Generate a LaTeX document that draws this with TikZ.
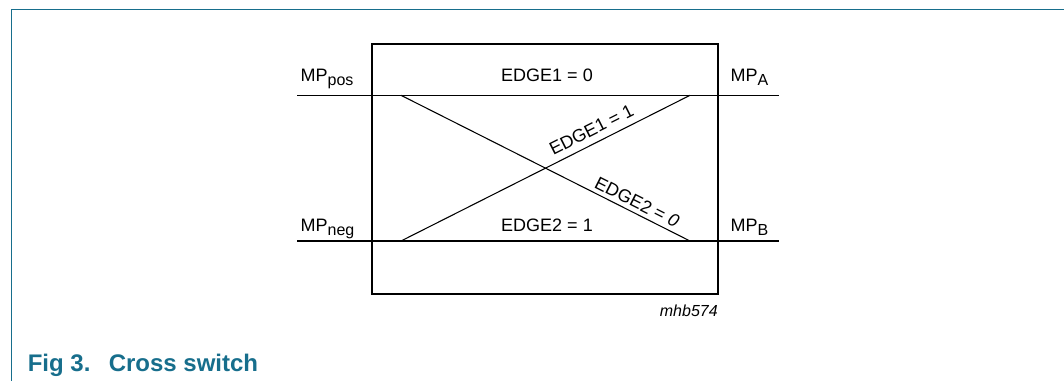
\documentclass[tikz,border=0pt]{standalone}
\usepackage{fontspec}
\setmainfont{Liberation Sans}
\definecolor{nxpteal}{RGB}{23,110,140}
\newcommand\subtxt[1]{\raisebox{-2.6pt}{\fontsize{12}{14}\selectfont #1}}
\tikzset{
  lbl/.style={inner sep=0pt, font=\fontsize{13.5}{15}\selectfont},
  wire/.style={line width=0.8pt},
  boxline/.style={line width=1.5pt},
  caption/.style={anchor=base west, inner sep=0pt, text=nxpteal, font=\bfseries\fontsize{18}{20}\selectfont}
}
\begin{document}
\begin{tikzpicture}[x=0.75pt,y=-0.75pt]
\useasboundingbox (0,0) rectangle (1064,381);
% frame
\draw[nxpteal, line width=1pt] (11.5,381) -- (11.5,9.5) -- (1064,9.5);
% box
\draw[boxline] (371.5,44) rectangle (718,293.5);
% terminals
\coordinate (pl) at (297,95.3);
\coordinate (pr) at (779,95.3);
\coordinate (nl) at (297,241);
\coordinate (nr) at (779,241);
\coordinate (tl) at (401,95.3);
\coordinate (tr) at (690,95.3);
\coordinate (bl) at (401,241);
\coordinate (br) at (690,241);
\draw[wire] (pl) -- (pr);
\draw[wire] (nl) -- (nr);
\draw[wire] (tl) -- (br) node[lbl, pos=0.80, sloped, above=3pt] (e20) {EDGE2 = \textit{0}};
\draw[wire] (bl) -- (tr) node[lbl, pos=0.68, sloped, above=5pt] (e11) {EDGE1 = 1};
% labels
\node[lbl, anchor=base west] (mppos) at (300.4,81.7) {MP\subtxt{pos}};
\node[lbl, anchor=base west] (mpa) at (730.4,81.7) {MP\subtxt{A}};
\node[lbl, anchor=base west] (mpneg) at (300.4,231.7) {MP\subtxt{neg}};
\node[lbl, anchor=base west] (mpb) at (730.4,231.7) {MP\subtxt{B}};
\node[lbl, anchor=base] (e10) at (547,81.7) {EDGE1 = 0};
\node[lbl, anchor=base] (e21) at (547,231.7) {EDGE2 = 1};
\node[inner sep=0pt, anchor=base east, font=\itshape\fontsize{12}{14}\selectfont] (code) at (718,316.7) {mhb574};
% caption
\node[caption] (fig) at (27.5,371.7) {Fig 3.};
\node[caption] (cap) at (108.5,371.7) {Cross switch};
\end{tikzpicture}
\end{document}
